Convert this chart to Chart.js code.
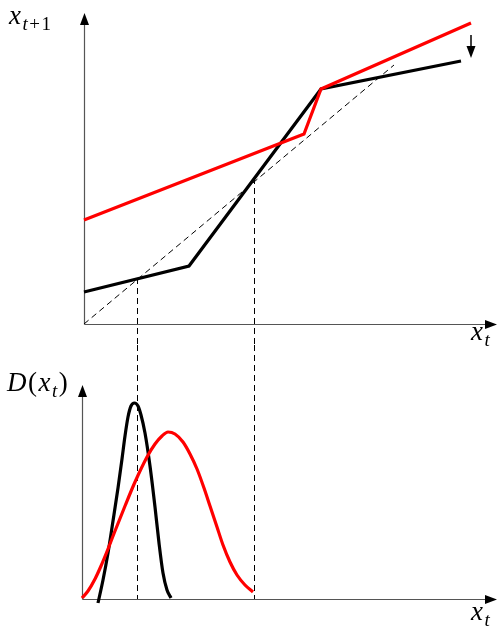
<!DOCTYPE html>
<html><head><meta charset="utf-8">
<script src="https://cdn.jsdelivr.net/npm/chart.js@4/dist/chart.umd.min.js"></script>
<style>
html,body{margin:0;padding:0;background:#fff;}
#wrap{position:relative;width:498px;height:626px;overflow:hidden;background:#fff;}
canvas{position:absolute;left:0;}
.lbl{position:absolute;font-family:"Liberation Serif","DejaVu Serif",serif;font-size:27px;color:#000;line-height:27px;white-space:nowrap;letter-spacing:1.5px;}
.lbl i{font-style:italic;}
.lbl .s{font-size:19px;position:relative;top:6px;letter-spacing:1.5px;}
</style></head>
<body><div id="wrap">
<canvas id="top" width="498" height="345" style="top:0"></canvas>
<canvas id="bot" width="498" height="281" style="top:345px"></canvas>
<div class="lbl" style="left:9px;top:2px"><i>x</i><span class="s"><i>t</i>+1</span></div>
<div class="lbl" style="left:471px;top:318px"><i>x</i><span class="s"><i>t</i></span></div>
<div class="lbl" style="left:7px;top:369px"><i>D</i>(<i>x</i><span class="s"><i>t</i></span>)</div>
<div class="lbl" style="left:471px;top:598px"><i>x</i><span class="s"><i>t</i></span></div>
</div>
<script>
// ---------- top panel: transition maps x_{t+1} = f(x_t) ----------
const blackMapX = [0, 1.05, 2.37, 3.77];
const blackMapY = [0.32, 0.58, 2.35, 2.63];
const redMapX = [0, 2.20, 2.37, 3.87];
const redMapY = [1.04, 1.90, 2.35, 3.01];
const diagX = [0, 3.10];
const diagY = [0, 2.59];
// fixed points (where the black map meets the diagonal) -> vertical guides
const guideX = [0.53, 1.70];
const guideY = [0.46, 1.46];
// shift arrow next to red map
const shiftArrowX = 3.87;
const shiftArrowFrom = 2.89;
const shiftArrowTo = 2.66;

// ---------- bottom panel: densities D(x_t) ----------
const blackDensX = [0.14,0.19,0.24,0.29,0.34,0.38,0.41,0.44,0.47,0.505,0.54,0.57,0.61,0.66,0.71,0.75,0.79,0.83,0.87];
const blackDensY = [-0.04,0.19,0.46,0.78,1.11,1.40,1.63,1.82,1.93,1.96,1.93,1.84,1.66,1.33,0.92,0.56,0.26,0.09,0.01];
const redDensX = [-0.02,0.04,0.11,0.17,0.24,0.31,0.41,0.51,0.63,0.71,0.78,0.84,0.91,0.99,1.06,1.13,1.20,1.26,1.33,1.39,1.46,1.53,1.61,1.69];
const redDensY = [0.01,0.08,0.20,0.33,0.50,0.68,0.93,1.17,1.42,1.55,1.63,1.67,1.65,1.57,1.45,1.30,1.11,0.93,0.72,0.54,0.37,0.24,0.14,0.07];

const pts = (xs, ys) => xs.map((x, i) => ({x, y: ys[i]}));

function arrowHead(ctx, tipX, tipY, dir) {
  const L = 12, W = 4.5;
  ctx.beginPath();
  if (dir === 'right') { ctx.moveTo(tipX, tipY); ctx.lineTo(tipX - L, tipY - W); ctx.lineTo(tipX - L, tipY + W); }
  else if (dir === 'up') { ctx.moveTo(tipX, tipY); ctx.lineTo(tipX - W, tipY + L); ctx.lineTo(tipX + W, tipY + L); }
  else { ctx.moveTo(tipX, tipY); ctx.lineTo(tipX - W, tipY - L); ctx.lineTo(tipX + W, tipY - L); }
  ctx.closePath(); ctx.fillStyle = '#000'; ctx.fill();
}

function makeAxesPlugin(guidesDown, extra) {
  return {
    id: 'axesArrows',
    beforeDatasetsDraw(chart) {
      const {ctx, chartArea: a, scales: {x, y}} = chart;
      ctx.save();
      ctx.strokeStyle = '#000'; ctx.lineWidth = 1; ctx.setLineDash([6, 4]);
      guideX.forEach((gx, i) => {
        const px = Math.round(x.getPixelForValue(gx)) + 0.5;
        ctx.beginPath();
        if (guidesDown) { ctx.moveTo(px, y.getPixelForValue(guideY[i])); ctx.lineTo(px, chart.height); }
        else { ctx.moveTo(px, 0); ctx.lineTo(px, y.getPixelForValue(0)); }
        ctx.stroke();
      });
      ctx.setLineDash([]);
      ctx.strokeStyle = '#555'; ctx.lineWidth = 1.2;
      const ox = Math.round(a.left) + 0.5, oy = Math.round(a.bottom) + 0.5;
      ctx.beginPath(); ctx.moveTo(ox, oy); ctx.lineTo(a.right - 8, oy); ctx.stroke();
      ctx.beginPath(); ctx.moveTo(ox, oy); ctx.lineTo(ox, a.top + 8); ctx.stroke();
      arrowHead(ctx, a.right, oy, 'right');
      arrowHead(ctx, ox, a.top, 'up');
      ctx.restore();
    },
    afterDatasetsDraw(chart) {
      if (extra) extra(chart);
    }
  };
}

const common = (padding, xr, yr) => ({
  responsive: false, animation: false, events: [],
  layout: {padding},
  plugins: {legend: {display: false}, tooltip: {enabled: false}},
  scales: {
    x: {type: 'linear', min: xr[0], max: xr[1], display: false},
    y: {type: 'linear', min: yr[0], max: yr[1], display: false}
  }
});

new Chart(document.getElementById('top'), {
  type: 'line',
  data: {datasets: [
    {data: pts(diagX, diagY), borderColor: '#000', borderWidth: 1, borderDash: [6, 4], pointRadius: 0, clip: false, tension: 0},
    {data: pts(redMapX, redMapY), borderColor: '#ff0000', borderWidth: 3.2, pointRadius: 0, clip: false, tension: 0, borderJoinStyle: 'miter'},
    {data: pts(blackMapX, blackMapY), borderColor: '#000', borderWidth: 3.2, pointRadius: 0, clip: false, tension: 0, borderJoinStyle: 'miter'}
  ]},
  options: common({left: 84, right: 1, top: 13, bottom: 21}, [0, 4.13], [0, 3.11]),
  plugins: [makeAxesPlugin(true, chart => {
    const {ctx, scales: {x, y}} = chart;
    const px = x.getPixelForValue(shiftArrowX);
    const y0 = y.getPixelForValue(shiftArrowFrom), y1 = y.getPixelForValue(shiftArrowTo);
    ctx.save(); ctx.strokeStyle = '#000'; ctx.lineWidth = 1.5;
    ctx.beginPath(); ctx.moveTo(px, y0); ctx.lineTo(px, y1 - 8); ctx.stroke();
    arrowHead(ctx, px, y1, 'down');
    ctx.restore();
  })]
});

new Chart(document.getElementById('bot'), {
  type: 'line',
  data: {datasets: [
    {data: pts(redDensX, redDensY), borderColor: '#ff0000', borderWidth: 3.2, pointRadius: 0, clip: false, cubicInterpolationMode: 'monotone'},
    {data: pts(blackDensX, blackDensY), borderColor: '#000', borderWidth: 3.2, pointRadius: 0, clip: false, cubicInterpolationMode: 'monotone'}
  ]},
  options: common({left: 82, right: 1, top: 40, bottom: 27}, [-0.02, 4.13], [0, 2.14]),
  plugins: [makeAxesPlugin(false, null)]
});
</script>
</body></html>
